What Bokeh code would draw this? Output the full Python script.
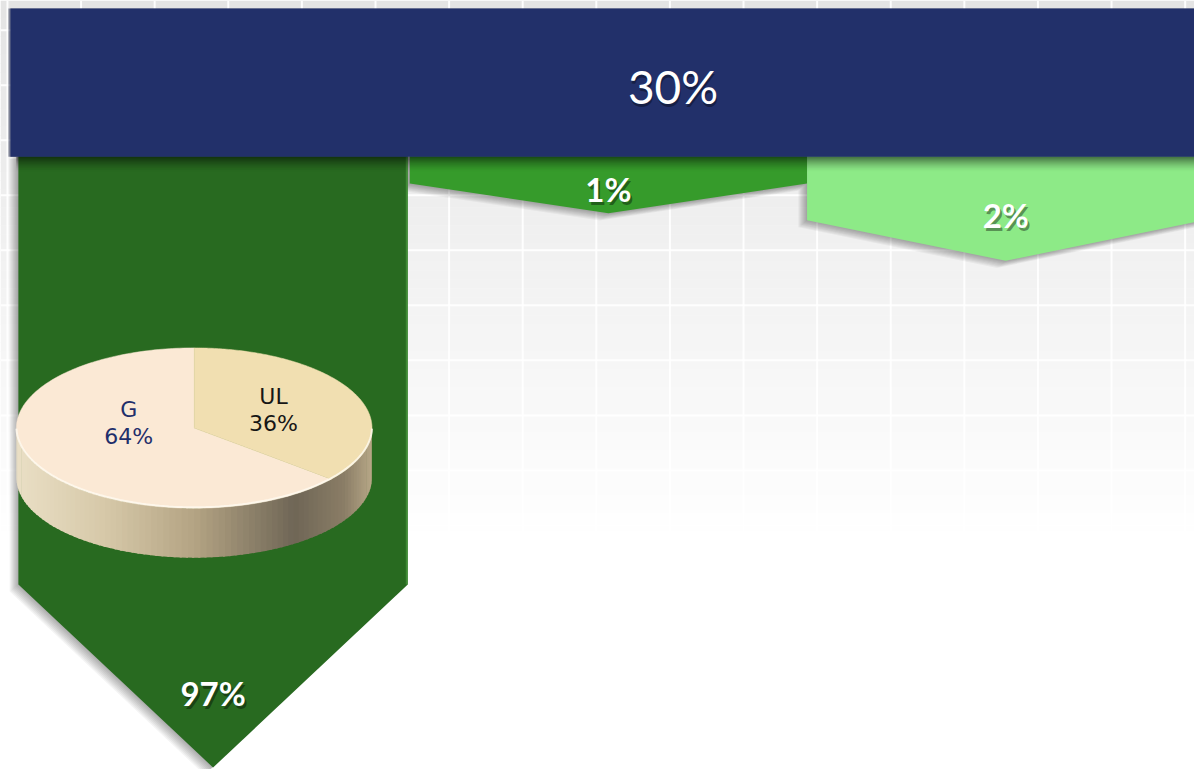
import numpy as np
from bokeh.plotting import figure
from bokeh.models import Range1d
from bokeh.embed import file_html
from bokeh.resources import INLINE
from bokeh.core.properties import value

# ---------------- data ----------------
root_label = "30%"
branch_labels = ["97%", "1%", "2%"]
branch_colors = ["#286a20", "#369b2b", "#8dea87"]
pie_labels = ["G", "UL"]
pie_values = [64, 36]
pie_colors = ["#fbe9d5", "#f1dfb1"]
pie_text_colors = ["#1f2f6b", "#161616"]
root_color = "#22306a"

# ---------------- layout (reference pixel space) ----------------
W, H = 1194, 769
RX, RY = 1202, 777
bar_l, bar_r, bar_t, bar_b = 10, 1344, 8, 158
col_left = [18, 412, 812]
col_right = [410, 812, 1212]
shoulder_y = [590, 185, 222]
tip_y = [775, 215, 263]
label_y = [700, 190, 217]
pie_cx, pie_cy, pie_rx, pie_ry, pie_depth = 195, 432, 179, 81, 50
pie_label_dx, pie_label_dy = 7, 3


def hex2rgb(h):
    h = h.lstrip("#")
    return np.array([int(h[i:i + 2], 16) for i in (0, 2, 4)], dtype=float)


def rgb2hex(c):
    c = np.clip(np.round(c), 0, 255).astype(int)
    return "#%02x%02x%02x" % tuple(c)


def ramp(stops, u):
    for (u0, c0), (u1, c1) in zip(stops[:-1], stops[1:]):
        if u <= u1:
            t = 0 if u1 == u0 else (u - u0) / (u1 - u0)
            return rgb2hex(hex2rgb(c0) * (1 - t) + hex2rgb(c1) * t)
    return stops[-1][1]


p = figure(width=W, height=H, x_range=Range1d(0, RX), y_range=Range1d(RY, 0),
           output_backend="svg", toolbar_location=None, min_border=0,
           x_axis_location=None, y_axis_location=None)
p.grid.visible = False
p.outline_line_color = None
p.background_fill_color = "white"
p.border_fill_color = "white"

# ---- background gradient + grid ----
n_strip = 60
g_top = np.linspace(0, 545, n_strip + 1)
bg_cols = [ramp([(0, "#e4e4e4"), (0.5, "#f2f2f2"), (1, "#ffffff")], i / n_strip) for i in range(n_strip)]
p.quad(left=0, right=RX, top=g_top[:-1], bottom=g_top[1:] + 0.6, fill_color=bg_cols, line_color=None)

vx = [7 + 74.1 * k for k in range(17)]
p.segment(x0=vx, y0=[0] * len(vx), x1=vx, y1=[545] * len(vx), line_color="white", line_width=2, line_alpha=0.9)
hy = [30 + 55.6 * k for k in range(10)]
p.segment(x0=[0] * len(hy), y0=hy, x1=[RX] * len(hy), y1=hy, line_color="white", line_width=2, line_alpha=0.9)

# ---- branch columns (arrows) ----
def arrow_poly(i, dx=0, dy=0):
    l, r = col_left[i], col_right[i]
    c = (l + r) / 2
    xs = [l, r, r, c, l]
    ys = [bar_b - 5, bar_b - 5, shoulder_y[i], tip_y[i], shoulder_y[i]]
    return [x + dx for x in xs], [y + dy for y in ys]

for i in range(3):
    for k in range(1, 9):
        xs, ys = arrow_poly(i, dx=-k * 1.1, dy=k * 0.9)
        p.patch(xs, ys, fill_color="black", fill_alpha=0.045, line_color=None)

for i in range(3):
    xs, ys = arrow_poly(i)
    p.patch(xs, ys, fill_color=branch_colors[i], line_color=None)

# light right edge of first column
p.segment(x0=[col_right[0] - 1], y0=[bar_b], x1=[col_right[0] - 1], y1=[shoulder_y[0]],
          line_color="#4a9a3e", line_width=2, line_alpha=0.7)

# ---- shadow under the top bar ----
n_sh = 15
for k in range(n_sh):
    p.quad(left=bar_l + 6, right=RX, top=bar_b + k, bottom=bar_b + k + 1,
           fill_color="black", fill_alpha=0.55 * (1 - k / n_sh) ** 1.6, line_color=None)

# ---- top bar ----
p.quad(left=bar_l - 2, right=bar_r, top=bar_t, bottom=bar_b, fill_color="#111a40", fill_alpha=0.5, line_color=None)
p.quad(left=bar_l, right=bar_r, top=bar_t, bottom=bar_b, fill_color=root_color, line_color=None)

# ---- texts on bars ----
rx_ = (bar_l + bar_r) / 2
ry_ = (bar_t + bar_b) / 2 + 4
p.text(x=[rx_ + 1], y=[ry_ + 3], text=[root_label], text_color="black", text_alpha=0.35,
       text_font=value("Lato"), text_font_size="46px", text_align="center", text_baseline="middle")
p.text(x=[rx_], y=[ry_], text=[root_label], text_color="white",
       text_font=value("Lato"), text_font_size="46px", text_align="center", text_baseline="middle")

lx = [(l + r) / 2 for l, r in zip(col_left, col_right)]
p.text(x=[x + 2 for x in lx], y=[y + 3 for y in label_y], text=branch_labels, text_color="black", text_alpha=0.4,
       text_font=value("Lato"), text_font_style="bold", text_font_size="33px",
       text_align="center", text_baseline="middle")
p.text(x=lx, y=label_y, text=branch_labels, text_color="white",
       text_font=value("Lato"), text_font_style="bold", text_font_size="33px",
       text_align="center", text_baseline="middle")

# ---- 3D pie ----
cx, cy, rx, ry, d = pie_cx, pie_cy, pie_rx, pie_ry, pie_depth
side_stops = [(0.0, "#eadfc5"), (0.25, "#d6c8a8"), (0.5, "#b3a383"), (0.78, "#6f6656"),
              (0.92, "#8a7d66"), (1.0, "#b8a888")]
n = 90
tt = np.linspace(0, np.pi, n + 1)
sx, sy, sc = [], [], []
for i in range(n):
    t0, t1 = tt[i], min(np.pi, tt[i + 1] + 0.012)
    x0, x1 = cx + rx * np.cos(t0), cx + rx * np.cos(t1)
    y0, y1 = cy + ry * np.sin(t0), cy + ry * np.sin(t1)
    sx.append([x0, x1, x1, x0])
    sy.append([y0, y1, y1 + d, y0 + d])
    u = ((x0 + x1) / 2 - (cx - rx)) / (2 * rx)
    sc.append(ramp(side_stops, u))
p.patches(sx, sy, fill_color=sc, line_color=None)

total = float(sum(pie_values))
start = -np.pi / 2
px, py, mids = [], [], []
for v in pie_values:
    sweep = v / total * 2 * np.pi
    a = np.linspace(start, start - sweep, 200)
    px.append([cx] + list(cx + rx * np.cos(a)))
    py.append([cy] + list(cy + ry * np.sin(a)))
    mids.append(start - sweep / 2)
    start -= sweep
p.patches(px, py, fill_color=pie_colors, line_color=pie_colors, line_width=0.5)

# rim highlight
ta = np.linspace(0.02, np.pi - 0.02, 120)
p.line(cx + rx * np.cos(ta), cy + ry * np.sin(ta) - 1, line_color="#fffaf0", line_width=2, line_alpha=0.8)

for lab, v, m, tc in zip(pie_labels, pie_values, mids, pie_text_colors):
    x = cx + pie_label_dx + 0.45 * rx * np.cos(m)
    y = cy + pie_label_dy - 0.18 * ry + 0.19 * ry * np.sin(m)
    pct = "%d%%" % round(v / total * 100)
    p.text(x=[x, x], y=[y - 13.5, y + 13.5], text=[lab, pct], text_color=tc,
           text_font=value("DejaVu Sans"), text_font_size="22px",
           text_align="center", text_baseline="middle")

open("out.html", "w").write(file_html(p, INLINE))
